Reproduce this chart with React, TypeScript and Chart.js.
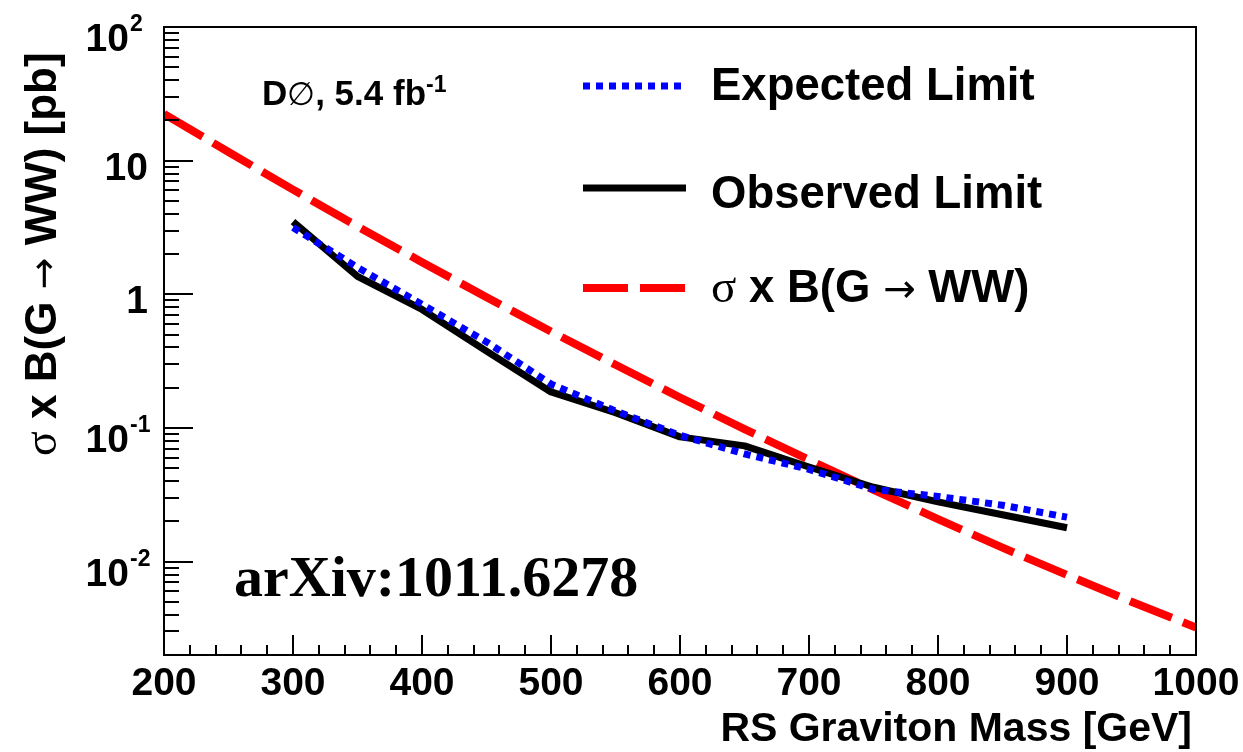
import React, { useEffect, useRef } from "react";
import { Chart, registerables } from "chart.js";

Chart.register(...registerables);

// ---- data ----
const limitMasses = [300, 350, 400, 450, 500, 550, 600, 650, 700, 750, 800, 850, 900];
const observedLimit = [3.5, 1.36, 0.77, 0.376, 0.186, 0.13, 0.0857, 0.0734, 0.051, 0.036, 0.028, 0.0224, 0.0179];
const expectedLimit = [3.16, 1.59, 0.84, 0.44, 0.213, 0.134, 0.088, 0.064, 0.049, 0.0347, 0.0307, 0.0264, 0.0215];
const theoryMasses = [200, 250, 300, 350, 400, 450, 500, 550, 600, 650, 700, 750, 800, 850, 900, 950, 1000];
const theoryXsec = [22.4, 11.6, 6.07, 3.22, 1.74, 0.95, 0.527, 0.297, 0.169, 0.098, 0.0577, 0.0344, 0.0208, 0.0127, 0.00794, 0.00501, 0.00321];

const xMin = 200;
const xMax = 1000;
const yMin = 0.002;
const yMax = 100;
const xMajorTicks = [200, 300, 400, 500, 600, 700, 800, 900, 1000];
const yDecades = [0.01, 0.1, 1, 10, 100];
const yDecadeBase = ["10", "10", "1", "10", "10"];
const yDecadeExp = ["-2", "-1", "", "", "2"];
const legendLabels = ["Expected Limit", "Observed Limit", "\u03c3 x B(G \u2192 WW)"];

const SANS = '"Liberation Sans", Arial, Helvetica, sans-serif';
const bold = (s: number) => `bold ${s}px ${SANS}`;
const serif = (s: number) => `${s}px "Liberation Serif", "Times New Roman", serif`;
const sym = (s: number) => `${s}px "DejaVu Sans", sans-serif`;

type Seg = { t: string; f: string; dy?: number };

function drawSegs(ctx: CanvasRenderingContext2D, segs: Seg[], x: number, y: number) {
  let cx = x;
  for (const s of segs) {
    ctx.font = s.f;
    ctx.fillText(s.t, cx, y + (s.dy || 0));
    cx += ctx.measureText(s.t).width;
  }
  return cx;
}

const rootPlugin = {
  id: "rootStyle",
  afterDraw(chart: any) {
    const ctx: CanvasRenderingContext2D = chart.ctx;
    const { left, right, top, bottom } = chart.chartArea;
    const xs = chart.scales.x;
    const ys = chart.scales.y;
    ctx.save();
    ctx.strokeStyle = "#000";
    ctx.fillStyle = "#000";
    ctx.lineWidth = 2;
    ctx.setLineDash([]);
    // frame
    ctx.strokeRect(left, top, right - left, bottom - top);

    // x ticks
    ctx.beginPath();
    for (let v = xMin; v <= xMax + 0.001; v += 20) {
      const px = Math.round(xs.getPixelForValue(v));
      const major = Math.abs(v % 100) < 0.001;
      ctx.moveTo(px, bottom);
      ctx.lineTo(px, bottom - (major ? 20 : 10));
    }
    // y ticks
    for (let e = -3; e <= 2; e++) {
      for (let m = 1; m <= 9; m++) {
        const v = m * Math.pow(10, e);
        if (v < yMin * 0.999 || v > yMax * 1.001) continue;
        const py = Math.round(ys.getPixelForValue(v));
        ctx.moveTo(left, py);
        ctx.lineTo(left + (m === 1 ? 29 : 15), py);
      }
    }
    ctx.stroke();

    // x tick labels
    ctx.font = bold(39);
    ctx.textAlign = "center";
    ctx.textBaseline = "alphabetic";
    for (const v of xMajorTicks) {
      ctx.fillText(String(v), xs.getPixelForValue(v), 695);
    }
    // y tick labels
    yDecades.forEach((v, i) => {
      const py = ys.getPixelForValue(v);
      const exp = yDecadeExp[i];
      if (exp) {
        ctx.font = bold(23);
        ctx.textAlign = "left";
        ctx.fillText(exp, 130, py + 4);
        ctx.font = bold(39);
        ctx.textAlign = "right";
        ctx.fillText(yDecadeBase[i], 129, py + 24);
      } else {
        ctx.font = bold(39);
        ctx.textAlign = "right";
        ctx.fillText(yDecadeBase[i], 148, py + 19);
      }
    });

    // x axis title
    ctx.font = bold(41);
    ctx.textAlign = "right";
    ctx.fillText("RS Graviton Mass [GeV]", 1192, 741);

    // y axis title (rotated)
    ctx.save();
    ctx.translate(56, 456);
    ctx.rotate(-Math.PI / 2);
    ctx.textAlign = "left";
    drawSegs(ctx, [
      { t: "\u03c3", f: serif(46) },
      { t: " x B(G ", f: bold(44) },
      { t: "\u2192", f: sym(38) },
      { t: " WW) [pb]", f: bold(44) },
    ], 0, 0);
    ctx.restore();

    // D0 label
    ctx.textAlign = "left";
    drawSegs(ctx, [
      { t: "D", f: bold(35) },
      { t: "\u2205", f: sym(32) },
      { t: ", 5.4 fb", f: bold(35) },
      { t: "-1", f: bold(23), dy: -13 },
    ], 262, 105);

    // arXiv label
    ctx.font = `bold 58px "Liberation Serif", "Times New Roman", serif`;
    ctx.fillText("arXiv:1011.6278", 234, 596);

    // legend
    const ds = chart.data.datasets;
    const legendY = [86, 188, 288];
    const textY = [100, 208, 302];
    for (let i = 0; i < 3; i++) {
      const d = ds[i];
      ctx.beginPath();
      ctx.strokeStyle = d.borderColor;
      ctx.lineWidth = d.borderWidth;
      ctx.lineCap = "butt";
      ctx.setLineDash(d.borderDash || []);
      ctx.moveTo(583, legendY[i]);
      ctx.lineTo(686, legendY[i]);
      ctx.stroke();
    }
    ctx.setLineDash([]);
    ctx.fillStyle = "#000";
    ctx.font = bold(45.5);
    ctx.fillText(legendLabels[0], 711, textY[0]);
    ctx.fillText(legendLabels[1], 711, textY[1]);
    drawSegs(ctx, [
      { t: "\u03c3", f: serif(47) },
      { t: " x B(G ", f: bold(45.5) },
      { t: "\u2192", f: sym(39) },
      { t: " WW)", f: bold(45.5) },
    ], 711, textY[2]);

    ctx.restore();
  },
};

export default function App() {
  const canvasRef = useRef<HTMLCanvasElement | null>(null);

  useEffect(() => {
    if (!canvasRef.current) return;
    const chart = new Chart(canvasRef.current, {
      type: "line",
      data: {
        datasets: [
          {
            label: legendLabels[0],
            data: limitMasses.map((m, i) => ({ x: m, y: expectedLimit[i] })),
            borderColor: "#0000ff",
            borderWidth: 7,
            borderDash: [7, 6],
            borderCapStyle: "butt",
            pointRadius: 0,
            tension: 0,
            fill: false,
          },
          {
            label: legendLabels[1],
            data: limitMasses.map((m, i) => ({ x: m, y: observedLimit[i] })),
            borderColor: "#000000",
            borderWidth: 7,
            borderCapStyle: "butt",
            borderJoinStyle: "round",
            pointRadius: 0,
            tension: 0,
            fill: false,
          },
          {
            label: legendLabels[2],
            data: theoryMasses.map((m, i) => ({ x: m, y: theoryXsec[i] })),
            borderColor: "#ff0000",
            borderWidth: 8,
            borderDash: [45, 12],
            borderCapStyle: "butt",
            pointRadius: 0,
            tension: 0,
            fill: false,
          },
        ],
      },
      options: {
        animation: false,
        responsive: false,
        events: [],
        layout: { padding: { left: 164, top: 27, right: 47, bottom: 97 } },
        plugins: { legend: { display: false }, tooltip: { enabled: false }, title: { display: false } },
        scales: {
          x: { type: "linear", min: xMin, max: xMax, display: false },
          y: { type: "logarithmic", min: yMin, max: yMax, display: false },
        },
      },
      plugins: [rootPlugin],
    } as any);
    return () => chart.destroy();
  }, []);

  return (
    <div style={{ position: "absolute", left: 0, top: 0, width: 1243, height: 752, background: "#fff" }}>
      <canvas ref={canvasRef} width={1243} height={752} style={{ display: "block" }} />
    </div>
  );
}
